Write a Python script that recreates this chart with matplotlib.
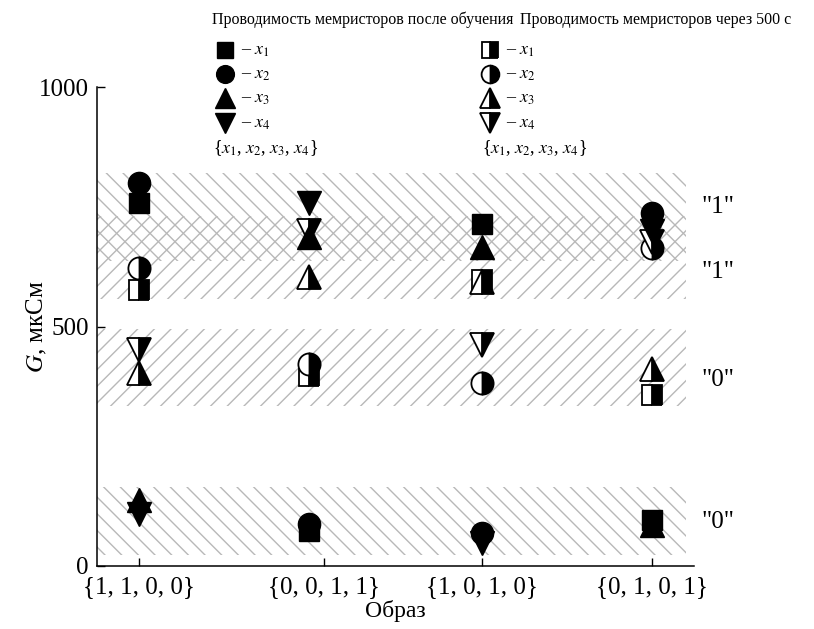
import matplotlib.pyplot as plt
from matplotlib.lines import Line2D

plt.rcParams['font.family'] = ['Liberation Serif', 'DejaVu Serif']
plt.rcParams['mathtext.fontset'] = 'stix'
plt.rcParams['hatch.color'] = '#b8b8b8'
plt.rcParams['hatch.linewidth'] = 1.0

# --- данные ---
patterns = ['{1, 1, 0, 0}', '{0, 0, 1, 1}', '{1, 0, 1, 0}', '{0, 1, 0, 1}']
tick_x = [0.7, 3.8, 6.45, 9.3]
point_x = [0.7, 3.55, 6.45, 9.3]

# проводимость после обучения, мкСм
trained_x1 = [758, 73, 713, 96]
trained_x2 = [800, 87, 68, 736]
trained_x3 = [138, 686, 667, 85]
trained_x4 = [108, 757, 47, 699]

# проводимость через 500 с, мкСм
aged_x1 = [576, 397, 597, 357]
aged_x2 = [622, 421, 382, 663]
aged_x3 = [403, 604, 592, 412]
aged_x4 = [451, 700, 462, 677]

# области логических уровней
trained_bands = [(23, 165), (637, 821)]
aged_bands = [(335, 494), (558, 731)]
level_labels = ['"1"', '"1"', '"0"', '"0"']
level_y = [749, 614, 388, 92]

markers = ['s', 'o', '^', 'v']
sizes = {'s': 15, 'o': 16, '^': 17.5, 'v': 17.5}

fig = plt.figure(figsize=(8.14, 6.29), dpi=100)
ax = fig.add_axes([97 / 814, 63 / 629, 597 / 814, 479 / 629])

for lo, hi in trained_bands:
    ax.axhspan(lo, hi, xmin=0, xmax=0.987, facecolor='none',
               edgecolor='#b8b8b8', hatch='\\\\', linewidth=0, zorder=0)
for lo, hi in aged_bands:
    ax.axhspan(lo, hi, xmin=0, xmax=0.987, facecolor='none',
               edgecolor='#b8b8b8', hatch='//', linewidth=0, zorder=0)

aged = [aged_x1, aged_x2, aged_x3, aged_x4]
trained = [trained_x1, trained_x2, trained_x3, trained_x4]

for m, vals in zip(markers, aged):
    ax.plot(point_x, vals, linestyle='none', marker=m, markersize=sizes[m],
            fillstyle='right', markerfacecolor='black',
            markerfacecoloralt='white', markeredgecolor='black',
            markeredgewidth=1.3, zorder=3)
for m, vals in zip(markers, trained):
    ax.plot(point_x, vals, linestyle='none', marker=m, markersize=sizes[m],
            color='black', markeredgewidth=1.0, zorder=4)

for txt, y in zip(level_labels, level_y):
    ax.text(1.04, y, txt, transform=ax.get_yaxis_transform(),
            ha='center', va='center', fontsize=18)

ax.set_xlim(0, 10)
ax.set_ylim(0, 1000)
ax.set_xticks(tick_x)
ax.set_xticklabels(patterns)
ax.set_yticks([0, 500, 1000])
ax.tick_params(direction='in', length=6, width=1, labelsize=18, pad=6)
ax.tick_params(axis='x', pad=7)
for side in ['top', 'right']:
    ax.spines[side].set_visible(False)
for side in ['left', 'bottom']:
    ax.spines[side].set_linewidth(1.1)

ax.set_xlabel('Образ', fontsize=17, labelpad=2)
ax.set_ylabel('$G$, мкСм', fontsize=18)
ax.yaxis.set_label_coords(-0.08, 0.5)


# --- условные обозначения ---
def key_column(x_mark, x_text, x_brace, half):
    rows = [50, 74, 98, 123]
    for i, (m, y) in enumerate(zip(markers, rows)):
        style = dict(marker=m, markersize=sizes[m] * 0.8, linestyle='none',
                     markeredgecolor='black', transform=fig.transFigure)
        if half:
            style.update(fillstyle='right', markerfacecolor='black',
                         markerfacecoloralt='white', markeredgewidth=1.3)
        else:
            style.update(color='black')
        fig.add_artist(Line2D([x_mark / 814], [1 - y / 629], **style))
        fig.text(x_text / 814, 1 - y / 629, '– $x_{%d}$' % (i + 1),
                 ha='left', va='center', fontsize=13)
    fig.text(x_brace / 814, 1 - 148 / 629, '{$x_1$, $x_2$, $x_3$, $x_4$}',
             ha='left', va='center', fontsize=13)


fig.text(212 / 814, 1 - 20 / 629, 'Проводимость мемристоров после обучения',
         ha='left', va='center', fontsize=11.5)
fig.text(520 / 814, 1 - 20 / 629, 'Проводимость мемристоров через 500 с',
         ha='left', va='center', fontsize=11.5)
key_column(225, 241, 213, half=False)
key_column(490, 506, 482, half=True)

fig.savefig('out.png', dpi=100)
